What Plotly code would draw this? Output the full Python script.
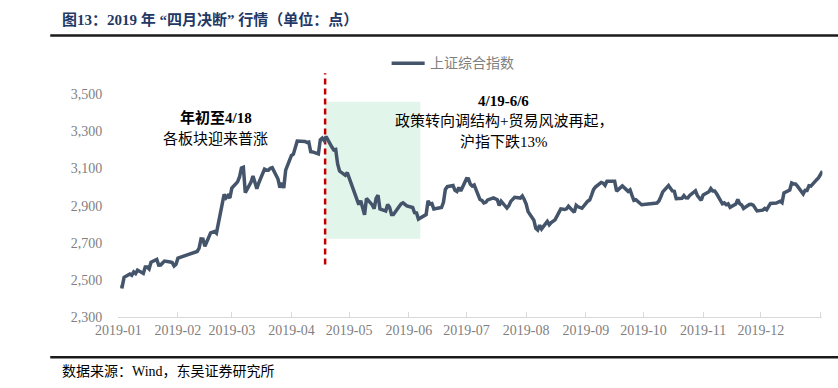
import plotly.graph_objects as go

# ---------------- data ----------------
series_name = "上证综合指数"

trade_dates = [
    # Jan
    "2019-01-02", "2019-01-03", "2019-01-04", "2019-01-07", "2019-01-08", "2019-01-09", "2019-01-10",
    "2019-01-11", "2019-01-14", "2019-01-15", "2019-01-16", "2019-01-17", "2019-01-18", "2019-01-21",
    "2019-01-22", "2019-01-23", "2019-01-24", "2019-01-25", "2019-01-28", "2019-01-29", "2019-01-30",
    "2019-01-31",
    # Feb
    "2019-02-01", "2019-02-11", "2019-02-12", "2019-02-13", "2019-02-14", "2019-02-15", "2019-02-18",
    "2019-02-19", "2019-02-20", "2019-02-21", "2019-02-22", "2019-02-25", "2019-02-26", "2019-02-27",
    "2019-02-28",
    # Mar
    "2019-03-01", "2019-03-04", "2019-03-05", "2019-03-06", "2019-03-07", "2019-03-08", "2019-03-11",
    "2019-03-12", "2019-03-13", "2019-03-14", "2019-03-15", "2019-03-18", "2019-03-19", "2019-03-20",
    "2019-03-21", "2019-03-22", "2019-03-25", "2019-03-26", "2019-03-27", "2019-03-28", "2019-03-29",
    # Apr
    "2019-04-01", "2019-04-02", "2019-04-03", "2019-04-04", "2019-04-08", "2019-04-09", "2019-04-10",
    "2019-04-11", "2019-04-12", "2019-04-15", "2019-04-16", "2019-04-17", "2019-04-18", "2019-04-19",
    "2019-04-22", "2019-04-23", "2019-04-24", "2019-04-25", "2019-04-26", "2019-04-29", "2019-04-30",
    # May
    "2019-05-06", "2019-05-07", "2019-05-08", "2019-05-09", "2019-05-10", "2019-05-13", "2019-05-14",
    "2019-05-15", "2019-05-16", "2019-05-17", "2019-05-20", "2019-05-21", "2019-05-22", "2019-05-23",
    "2019-05-24", "2019-05-27", "2019-05-28", "2019-05-29", "2019-05-30", "2019-05-31",
    # Jun
    "2019-06-03", "2019-06-04", "2019-06-05", "2019-06-06", "2019-06-10", "2019-06-11", "2019-06-12",
    "2019-06-13", "2019-06-14", "2019-06-17", "2019-06-18", "2019-06-19", "2019-06-20", "2019-06-21",
    "2019-06-24", "2019-06-25", "2019-06-26", "2019-06-27", "2019-06-28",
    # Jul
    "2019-07-01", "2019-07-02", "2019-07-03", "2019-07-04", "2019-07-05", "2019-07-08", "2019-07-09",
    "2019-07-10", "2019-07-11", "2019-07-12", "2019-07-15", "2019-07-16", "2019-07-17", "2019-07-18",
    "2019-07-19", "2019-07-22", "2019-07-23", "2019-07-24", "2019-07-25", "2019-07-26", "2019-07-29",
    "2019-07-30", "2019-07-31",
    # Aug
    "2019-08-01", "2019-08-02", "2019-08-05", "2019-08-06", "2019-08-07", "2019-08-08", "2019-08-09",
    "2019-08-12", "2019-08-13", "2019-08-14", "2019-08-15", "2019-08-16", "2019-08-19", "2019-08-20",
    "2019-08-21", "2019-08-22", "2019-08-23", "2019-08-26", "2019-08-27", "2019-08-28", "2019-08-29",
    "2019-08-30",
    # Sep
    "2019-09-02", "2019-09-03", "2019-09-04", "2019-09-05", "2019-09-06", "2019-09-09", "2019-09-10",
    "2019-09-11", "2019-09-12", "2019-09-16", "2019-09-17", "2019-09-18", "2019-09-19", "2019-09-20",
    "2019-09-23", "2019-09-24", "2019-09-25", "2019-09-26", "2019-09-27", "2019-09-30",
    # Oct
    "2019-10-08", "2019-10-09", "2019-10-10", "2019-10-11", "2019-10-14", "2019-10-15", "2019-10-16",
    "2019-10-17", "2019-10-18", "2019-10-21", "2019-10-22", "2019-10-23", "2019-10-24", "2019-10-25",
    "2019-10-28", "2019-10-29", "2019-10-30", "2019-10-31",
    # Nov
    "2019-11-01", "2019-11-04", "2019-11-05", "2019-11-06", "2019-11-07", "2019-11-08", "2019-11-11",
    "2019-11-12", "2019-11-13", "2019-11-14", "2019-11-15", "2019-11-18", "2019-11-19", "2019-11-20",
    "2019-11-21", "2019-11-22", "2019-11-25", "2019-11-26", "2019-11-27", "2019-11-28", "2019-11-29",
    # Dec
    "2019-12-02", "2019-12-03", "2019-12-04", "2019-12-05", "2019-12-06", "2019-12-09", "2019-12-10",
    "2019-12-11", "2019-12-12", "2019-12-13", "2019-12-16", "2019-12-17", "2019-12-18", "2019-12-19",
    "2019-12-20", "2019-12-23", "2019-12-24", "2019-12-25", "2019-12-26", "2019-12-27", "2019-12-30",
    "2019-12-31", "2020-01-02",
]

close_values = [
    # Jan
    2465, 2464, 2515, 2533, 2526, 2544, 2535,
    2554, 2536, 2570, 2570, 2560, 2596, 2611,
    2580, 2581, 2592, 2602, 2597, 2594, 2576,
    2585,
    # Feb
    2618, 2654, 2672, 2721, 2720, 2682, 2754,
    2756, 2761, 2752, 2804, 2961, 2942, 2954,
    2941,
    # Mar
    2994, 3028, 3054, 3102, 3106, 2970, 3027,
    3060, 3027, 2991, 3022, 3096, 3091, 3091,
    3101, 3104, 3043, 2997, 3023, 2995, 3091,
    # Apr
    3170, 3177, 3216, 3247, 3245, 3240, 3242,
    3190, 3189, 3178, 3254, 3263, 3250, 3271,
    3215, 3199, 3202, 3124, 3086, 3063, 3078,
    # May
    2906, 2926, 2894, 2851, 2939, 2904, 2884,
    2939, 2956, 2882, 2871, 2906, 2892, 2853,
    2853, 2892, 2910, 2915, 2906, 2899,
    # Jun
    2890, 2862, 2861, 2828, 2852, 2926, 2909,
    2911, 2882, 2888, 2890, 2918, 2987, 3002,
    3008, 2982, 2976, 2997, 2979,
    # Jul
    3045, 3044, 3015, 3005, 3011, 2933, 2928,
    2915, 2918, 2931, 2942, 2938, 2932, 2901,
    2924, 2887, 2900, 2923, 2937, 2945, 2941,
    2952, 2933,
    # Aug
    2909, 2868, 2822, 2778, 2769, 2795, 2775,
    2815, 2797, 2809, 2816, 2824, 2883, 2880,
    2880, 2883, 2897, 2864, 2902, 2894, 2891,
    2886,
    # Sep
    2924, 2930, 2957, 2986, 3000, 3025, 3021,
    3009, 3031, 3031, 2978, 2986, 2999, 3006,
    2977, 2985, 2955, 2929, 2932, 2905,
    # Oct
    2914, 2925, 2948, 2974, 3008, 2991, 2979,
    2977, 2938, 2940, 2954, 2942, 2941, 2955,
    2980, 2954, 2939, 2929,
    # Nov
    2958, 2975, 2992, 2979, 2979, 2964, 2910,
    2915, 2905, 2910, 2891, 2909, 2934, 2911,
    2904, 2885, 2906, 2907, 2903, 2890, 2872,
    # Dec
    2876, 2885, 2878, 2899, 2912, 2914, 2917,
    2924, 2916, 2968, 2984, 3022, 3017, 3017,
    3005, 2963, 2983, 2982, 3007, 3005, 3040,
    3050, 3085,
]

month_ticks = ["2019-01-01", "2019-02-01", "2019-03-01", "2019-04-01", "2019-05-01", "2019-06-01",
               "2019-07-01", "2019-08-01", "2019-09-01", "2019-10-01", "2019-11-01", "2019-12-01",
               "2020-01-01"]
month_labels = ["2019-01", "2019-02", "2019-03", "2019-04", "2019-05", "2019-06",
                "2019-07", "2019-08", "2019-09", "2019-10", "2019-11", "2019-12", ""]
y_ticks = [2300, 2500, 2700, 2900, 3100, 3300, 3500]

title_text = "图13：2019 年 “四月决断” 行情（单位：点）"
source_text = "数据来源：Wind，东吴证券研究所"
note1_head = "年初至4/18"
note1_body = "各板块迎来普涨"
note2_head = "4/19-6/6"
note2_line1 = "政策转向调结构+贸易风波再起，"
note2_line2 = "沪指下跌13%"

event_date = "2019-04-18T12:00"
event_low, event_high = 2584, 3612
shade_start, shade_end = "2019-04-18T12:00", "2019-06-07"
shade_low, shade_high = 2722, 3458

# ---------------- layout helpers ----------------
# Whole figure is the "paper"; the plot area is placed through axis domains.
W, H = 838, 388
PLOT_LEFT, PLOT_RIGHT, PLOT_TOP, PLOT_BOTTOM = 98, 822, 67.5, 324


def px_x(p):
    return p / W


def px_y(p):
    return 1 - p / H


SERIF = "Times New Roman, Liberation Serif, Noto Sans CJK SC, serif"
GRAY = "#7F7F7F"
RULE = "#1A1A1A"
LINE_COLOR = "#44546A"

fig = go.Figure()
fig.add_trace(go.Scatter(
    x=trade_dates, y=close_values, mode="lines", name=series_name,
    line=dict(color=LINE_COLOR, width=3.5), showlegend=False,
))

shapes = [
    dict(type="rect", xref="x", yref="y", x0=shade_start, x1=shade_end,
         y0=shade_low, y1=shade_high, fillcolor="#E2F5EA", line=dict(width=0), layer="below"),
    dict(type="line", xref="x", yref="y", x0=event_date, x1=event_date,
         y0=event_low, y1=event_high, line=dict(color="#C00000", width=2.5, dash="6px,4px"),
         layer="below"),
    # rule under the title
    dict(type="rect", xref="paper", yref="paper", x0=px_x(28), x1=px_x(838),
         y0=px_y(37.5), y1=px_y(35), fillcolor=RULE, line=dict(width=0), layer="above"),
    # rule above the source line
    dict(type="rect", xref="paper", yref="paper", x0=px_x(28), x1=px_x(838),
         y0=px_y(366), y1=px_y(363.5), fillcolor=RULE, line=dict(width=0), layer="above"),
    # legend key
    dict(type="line", xref="paper", yref="paper", x0=px_x(379), x1=px_x(413),
         y0=px_y(64.5), y1=px_y(64.5), line=dict(color=LINE_COLOR, width=3.5), layer="above"),
]

annotations = [
    dict(text="<b>" + title_text + "</b>", x=px_x(38), y=px_y(20), xanchor="left", yanchor="middle",
         font=dict(family=SERIF, size=15, color="#1F3864")),
    dict(text=series_name, x=px_x(416), y=px_y(64.5), xanchor="left", yanchor="middle",
         font=dict(family=SERIF, size=14, color=GRAY)),
    dict(text=source_text, x=px_x(38), y=px_y(379), xanchor="left", yanchor="middle",
         font=dict(family=SERIF, size=14, color="#000000")),
    dict(text="<b>" + note1_head + "</b>", x=px_x(198), y=px_y(120), xanchor="center", yanchor="middle",
         font=dict(family=SERIF, size=15, color="#000000")),
    dict(text=note1_body, x=px_x(198), y=px_y(141), xanchor="center", yanchor="middle",
         font=dict(family=SERIF, size=15, color="#000000")),
    dict(text="<b>" + note2_head + "</b>", x=px_x(494), y=px_y(103), xanchor="center", yanchor="middle",
         font=dict(family=SERIF, size=15, color="#000000")),
    dict(text=note2_line1, x=px_x(495), y=px_y(124), xanchor="center", yanchor="middle",
         font=dict(family=SERIF, size=15, color="#000000")),
    dict(text=note2_line2, x=px_x(495), y=px_y(145), xanchor="center", yanchor="middle",
         font=dict(family=SERIF, size=15, color="#000000")),
]
for a in annotations:
    a.update(xref="paper", yref="paper", showarrow=False)

fig.update_layout(
    width=W, height=H,
    margin=dict(l=0, r=0, t=0, b=0, pad=0),
    paper_bgcolor="white", plot_bgcolor="white",
    font=dict(family=SERIF, size=14, color=GRAY),
    showlegend=False,
    shapes=shapes, annotations=annotations,
    xaxis=dict(
        domain=[px_x(PLOT_LEFT), px_x(PLOT_RIGHT)],
        type="date", range=["2019-01-01", "2020-01-02"],
        tickmode="array", tickvals=month_ticks, ticktext=month_labels,
        ticks="inside", ticklen=5, tickcolor="#D9D9D9", tickwidth=1,
        showline=True, linecolor="#D9D9D9", linewidth=1,
        showgrid=False, zeroline=False,
        tickfont=dict(family=SERIF, size=14, color=GRAY),
    ),
    yaxis=dict(
        domain=[px_y(PLOT_BOTTOM), px_y(PLOT_TOP)],
        range=[2300, 3650], tickmode="array", tickvals=y_ticks, tickformat=",",
        showline=False, showgrid=False, zeroline=False, ticks="",
        ticklabelstandoff=15,
        tickfont=dict(family=SERIF, size=14, color=GRAY),
    ),
)

fig.write_html(
    "out.html",
    config={"displayModeBar": False},
    post_script="document.body.style.margin='0px';document.body.style.padding='0px';",
)
